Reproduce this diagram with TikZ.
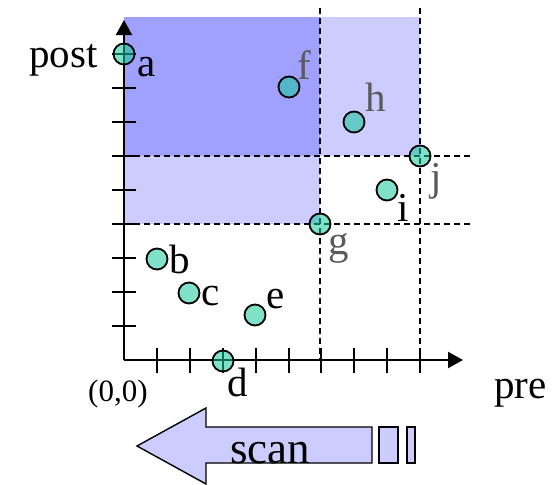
\documentclass[tikz,border=0pt]{standalone}
\usepackage{fontspec}
\setmainfont{Liberation Serif}
\usetikzlibrary{arrows.meta}
\definecolor{darkzone}{RGB}{160,160,255}
\definecolor{lightzone}{RGB}{204,204,255}
\definecolor{dotfill}{RGB}{20,200,155}
\definecolor{labelgray}{RGB}{90,90,90}
\tikzset{
  axis/.style={line width=2.2pt},
  tickline/.style={line width=2pt},
  guide/.style={line width=1.8pt, dash pattern=on 6pt off 4pt},
  dot/.style={circle, draw=black, line width=1.8pt, fill=dotfill, fill opacity=0.55,
    draw opacity=1, minimum size=21pt, inner sep=0pt},
  lbl/.style={anchor=base west, inner sep=0pt, font=\fontsize{41}{48}\selectfont},
  glbl/.style={lbl, text=labelgray},
  scanpart/.style={draw=black, line width=1.4pt, fill=lightzone},
}
\begin{document}
\begin{tikzpicture}[x=1pt, y=-1pt]
\useasboundingbox (0,0) rectangle (552,485);

% shaded zones
\fill[darkzone] (124,17) rectangle (320,156);
\fill[lightzone] (320,17) rectangle (420,156);
\fill[lightzone] (124,156) rectangle (320,224);

% dashed guides
\coordinate (v1t) at (320,8);   \coordinate (v1b) at (320,360);
\coordinate (v2t) at (420,8);   \coordinate (v2b) at (420,360);
\coordinate (h1l) at (124,156); \coordinate (h1r) at (470,156);
\coordinate (h2l) at (124,224); \coordinate (h2r) at (470,224);
\draw[guide] (v1t) -- (v1b);
\draw[guide] (v2t) -- (v2b);
\draw[guide] (h1l) -- (h1r);
\draw[guide] (h2l) -- (h2r);

% axes
\coordinate (O) at (124,360);
\coordinate (xend) at (463,360);
\coordinate (yend) at (124,20);
\draw[axis, -{Triangle[length=15pt,width=16pt]}] (O) -- (xend);
\draw[axis, -{Triangle[length=15pt,width=16pt]}] (O) -- (yend);
\foreach \k in {1,...,9}{
  \draw[tickline] ({124+32.9*\k},348) -- ({124+32.9*\k},373);
  \draw[tickline] (112,{360-34*\k}) -- (136,{360-34*\k});
}

% points
\node[dot] (a) at (124,54) {};
\node[dot] (b) at (157,259) {};
\node[dot] (c) at (189,293) {};
\node[dot] (d) at (223,361) {};
\node[dot] (e) at (255,315) {};
\node[dot] (f) at (289,87) {};
\node[dot] (g) at (320,224) {};
\node[dot] (h) at (354,122) {};
\node[dot] (i) at (387,190) {};
\node[dot] (j) at (420,156) {};

% point labels
\node[lbl] (la) at (137,76) {a};
\node[lbl] (lb) at (169,273) {b};
\node[lbl] (lc) at (201,305) {c};
\node[lbl] (ld) at (227,396) {d};
\node[lbl] (le) at (266,308) {e};
\node[glbl] (lf) at (297,79) {f};
\node[glbl] (lg) at (328,254) {g};
\node[glbl] (lh) at (365,111) {h};
\node[lbl] (li) at (397,221) {i};
\node[glbl] (lj) at (430,190) {j};

% axis labels
\node[lbl] (post) at (29,67) {post};
\node[lbl] (pre) at (494,398) {pre};
\node[anchor=base west, inner sep=0pt, font=\fontsize{31}{36}\selectfont] (origin) at (88,401) {(0,0)};

% scan arrow
\draw[scanpart] (137,446) -- (206,408) -- (206,427) -- (372,427) -- (372,463)
  -- (206,463) -- (206,484) -- cycle;
\draw[scanpart] (379,427) rectangle (398,463);
\draw[scanpart] (407,427) rectangle (415,463);
\node[anchor=base west, inner sep=0pt, font=\fontsize{45}{52}\selectfont] (scan) at (230,463) {scan};
\end{tikzpicture}
\end{document}
